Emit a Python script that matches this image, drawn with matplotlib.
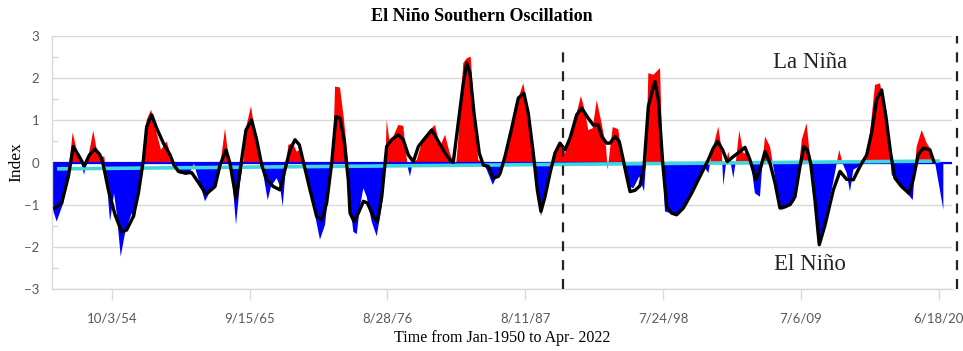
import numpy as np
import matplotlib

matplotlib.use("Agg")
import matplotlib.pyplot as plt
import matplotlib.dates as mdates
from matplotlib.ticker import FixedLocator, MultipleLocator

# index series (decimal year, value)
index_years = [
    1950.00, 1950.37, 1950.90, 1951.30, 1951.64, 1951.96, 1952.36, 1952.54, 1952.89, 1953.28,
    1953.60, 1953.87, 1954.16, 1954.34, 1954.61, 1954.93, 1955.14, 1955.46, 1955.80, 1956.33,
    1956.59, 1956.86, 1957.20, 1957.52, 1957.87, 1958.26, 1958.66, 1959.11, 1959.43, 1959.77,
    1960.04, 1960.70, 1960.96, 1961.28, 1961.49, 1962.16, 1962.55, 1963.08, 1963.35, 1963.75,
    1964.01, 1964.28, 1964.62, 1964.94, 1965.20, 1965.47, 1965.81, 1966.13, 1966.53, 1966.79,
    1967.14, 1967.40, 1967.85, 1968.12, 1968.33, 1968.59, 1968.78, 1969.12, 1969.44, 1969.70,
    1969.97, 1970.23, 1970.76, 1971.29, 1971.69, 1972.09, 1972.35, 1972.49, 1972.88, 1973.20,
    1973.54, 1973.68, 1973.94, 1974.21, 1974.47, 1974.74, 1975.00, 1975.40, 1975.80, 1976.20,
    1976.46, 1976.59, 1976.80, 1977.12, 1977.51, 1977.91, 1978.13, 1978.31, 1978.44, 1978.66,
    1978.98, 1979.37, 1979.90, 1980.43, 1980.83, 1981.23, 1981.57, 1981.88, 1982.10, 1982.28,
    1982.68, 1982.95, 1983.27, 1983.61, 1983.87, 1984.22, 1984.54, 1985.02, 1985.46, 1985.61,
    1985.99, 1986.39, 1986.79, 1987.18, 1987.45, 1987.76, 1988.11, 1988.32, 1988.64, 1988.85,
    1989.17, 1989.57, 1989.83, 1990.10, 1990.42, 1990.76, 1991.16, 1991.55, 1992.03, 1992.35,
    1992.61, 1992.96, 1993.28, 1993.67, 1994.02, 1994.15, 1994.33, 1994.55, 1994.99, 1995.26,
    1995.53, 1995.87, 1996.19, 1996.66, 1997.04, 1997.20, 1997.38, 1997.78, 1998.31, 1998.52,
    1998.70, 1999.10, 1999.63, 2000.16, 2000.69, 2001.35, 2001.88, 2002.15, 2002.42, 2002.94,
    2003.21, 2003.34, 2003.55, 2003.73, 2003.93, 2004.13, 2004.35, 2004.61, 2004.93, 2005.32,
    2005.59, 2005.85, 2006.25, 2006.39, 2006.65, 2007.05, 2007.26, 2007.58, 2007.97, 2008.37,
    2008.77, 2009.03, 2009.30, 2009.57, 2009.96, 2010.17, 2010.36, 2010.62, 2010.96, 2011.42,
    2011.95, 2012.35, 2012.55, 2012.82, 2013.14, 2013.40, 2013.67, 2014.14, 2014.60, 2014.99,
    2015.39, 2015.79, 2016.19, 2016.58, 2016.72, 2017.11, 2017.64, 2018.17, 2018.39, 2018.57,
    2018.70, 2019.10, 2019.50, 2019.84, 2020.16, 2020.50, 2020.82,
]
index_values = [
    -1.05, -1.40, -0.96, -0.25, 0.71, 0.30, -0.05, -0.29, 0.14, 0.76,
    0.22, 0.14, 0.14, -0.41, -1.40, -0.73, -1.20, -2.23, -1.68, -1.20,
    -1.32, -0.57, 0.00, 1.01, 1.25, 0.77, 0.30, 0.50, 0.18, 0.00,
    -0.25, -0.29, -0.24, -0.03, -0.25, -0.92, -0.69, -0.49, -0.09, 0.81,
    0.14, -0.25, -1.48, -0.49, 0.02, 0.89, 1.34, 0.70, 0.00, -0.29,
    -0.89, -0.57, -0.37, -0.57, -1.04, -0.09, 0.42, 0.46, 0.26, 0.30,
    -0.03, -0.25, -1.04, -1.83, -1.48, -0.41, 0.38, 1.80, 1.78, 1.01,
    0.00, -0.96, -1.64, -1.70, -1.04, -0.61, -0.81, -1.40, -1.75, -1.04,
    -0.25, 1.01, 0.54, 0.62, 0.89, 0.87, 0.22, -0.17, -0.33, 0.00,
    0.06, 0.46, 0.74, 0.89, 0.38, 0.66, 0.26, 0.00, -0.09, 0.54,
    2.36, 2.47, 2.51, 0.93, 0.06, 0.00, -0.17, -0.53, -0.25, -0.17,
    0.18, 0.62, 1.25, 1.64, 1.88, 1.33, 0.30, 0.00, -0.65, -1.28,
    -0.81, -0.33, 0.00, 0.26, 0.46, 0.22, 0.54, 1.01, 1.58, 1.21,
    0.77, 0.81, 1.48, 0.93, 0.38, -0.17, 0.30, 0.84, 0.79, 0.22,
    -0.09, -0.57, -0.61, -0.33, -0.69, 0.02, 2.12, 2.08, 2.24, 0.00,
    -1.16, -1.20, -1.24, -1.12, -0.81, -0.41, -0.13, -0.25, 0.22, 0.85,
    0.30, -0.55, -0.02, 0.26, -0.02, -0.37, 0.06, 0.76, 0.22, 0.22,
    -0.13, -0.73, -0.81, -0.25, 0.62, 0.38, 0.00, -0.57, -1.12, -1.08,
    -1.00, -0.89, -0.25, 0.54, 0.93, 0.30, 0.00, -0.65, -1.99, -1.36,
    -0.65, -0.02, 0.30, -0.02, -0.25, -0.69, -0.17, -0.09, 0.06, 0.70,
    1.84, 1.88, 1.17, 0.22, -0.29, -0.45, -0.65, -0.81, -0.89, -0.09,
    0.38, 0.77, 0.46, 0.30, 0.00, -0.57, -1.12,
]

# smoothed index (moving average)
smooth_years = [
    1950.24, 1950.77, 1951.30, 1951.69, 1952.09, 1952.57, 1952.97, 1953.42, 1953.81, 1954.08,
    1954.48, 1955.01, 1955.54, 1955.93, 1956.46, 1956.86, 1957.26, 1957.52, 1957.92, 1958.32,
    1958.85, 1959.38, 1959.69, 1960.04, 1960.57, 1961.10, 1961.49, 1962.24, 1962.95, 1963.35,
    1963.83, 1964.14, 1964.62, 1964.99, 1965.41, 1965.86, 1966.26, 1966.66, 1967.06, 1967.59,
    1968.12, 1968.51, 1968.91, 1969.31, 1969.65, 1969.97, 1970.50, 1971.03, 1971.43, 1971.82,
    1972.22, 1972.56, 1972.88, 1973.20, 1973.54, 1973.68, 1974.00, 1974.34, 1974.74, 1975.06,
    1975.53, 1975.85, 1976.20, 1976.59, 1976.99, 1977.51, 1977.91, 1978.31, 1978.71, 1979.11,
    1979.64, 1980.17, 1980.70, 1981.23, 1981.62, 1981.88, 1982.28, 1982.68, 1982.95, 1983.21,
    1983.53, 1983.95, 1984.27, 1984.66, 1985.06, 1985.46, 1985.61, 1985.99, 1986.52, 1987.05,
    1987.50, 1987.84, 1988.24, 1988.56, 1988.85, 1989.17, 1989.57, 1989.96, 1990.36, 1990.76,
    1991.16, 1991.69, 1992.08, 1992.61, 1993.01, 1993.40, 1993.67, 1994.07, 1994.33, 1994.73,
    1995.07, 1995.39, 1995.66, 1995.93, 1996.32, 1996.72, 1997.04, 1997.38, 1997.78, 1997.91,
    1998.18, 1998.52, 1998.84, 1999.23, 1999.63, 2000.16, 2000.82, 2001.48, 2002.14, 2002.54,
    2002.89, 2003.28, 2003.65, 2004.13, 2004.66, 2005.06, 2005.46, 2005.93, 2006.33, 2006.65,
    2007.05, 2007.45, 2007.84, 2008.24, 2008.64, 2009.03, 2009.43, 2009.75, 2010.01, 2010.28,
    2010.62, 2010.96, 2011.42, 2012.08, 2012.61, 2013.14, 2013.67, 2014.20, 2014.73, 2015.12,
    2015.52, 2015.92, 2016.26, 2016.63, 2016.98, 2017.50, 2018.11, 2018.42, 2018.82, 2019.22,
    2019.75, 2020.07,
]
smooth_values = [
    -1.08, -0.96, -0.33, 0.38, 0.18, -0.08, 0.18, 0.32, 0.18, -0.06,
    -0.65, -1.24, -1.64, -1.60, -1.28, -0.73, 0.06, 0.85, 1.13, 0.81,
    0.46, 0.18, -0.06, -0.21, -0.25, -0.24, -0.41, -0.75, -0.57, -0.06,
    0.30, -0.02, -0.85, -0.09, 0.77, 1.01, 0.54, -0.06, -0.41, -0.57,
    -0.65, -0.17, 0.30, 0.54, 0.42, 0.02, -0.65, -1.28, -1.36, -0.96,
    -0.02, 1.09, 1.05, 0.54, -0.41, -1.20, -1.40, -1.20, -0.92, -0.96,
    -1.28, -1.40, -0.81, 0.38, 0.54, 0.66, 0.54, 0.18, 0.02, 0.38,
    0.58, 0.77, 0.50, 0.22, 0.06, 0.00, 0.93, 1.88, 2.36, 2.12,
    1.17, 0.22, -0.06, -0.09, -0.37, -0.33, -0.25, 0.14, 0.81, 1.53,
    1.64, 1.17, 0.22, -0.65, -1.16, -0.81, -0.25, 0.22, 0.46, 0.30,
    0.58, 1.13, 1.29, 1.05, 0.89, 0.89, 0.62, 0.46, 0.46, 0.62,
    0.50, 0.06, -0.33, -0.69, -0.66, -0.55, -0.09, 1.33, 1.80, 1.92,
    1.48, 0.00, -1.04, -1.20, -1.24, -1.08, -0.73, -0.33, 0.06, 0.34,
    0.50, 0.30, 0.02, 0.14, 0.26, 0.36, 0.06, -0.41, -0.09, 0.26,
    -0.02, -0.49, -1.08, -1.04, -1.00, -0.81, -0.09, 0.38, 0.30, -0.02,
    -0.89, -1.95, -1.48, -0.65, -0.21, -0.40, -0.41, -0.09, 0.18, 0.70,
    1.49, 1.72, 1.09, 0.22, -0.37, -0.57, -0.73, -0.41, 0.18, 0.34,
    0.30, 0.02,
]

# linear trend end points
trend_years = [1950.40, 2020.55]
trend_values = [-0.15, 0.035]

# period markers
divider_years = [1990.56, 2021.90]
divider_tops = [2.7, 3.0]

tick_dates = ["1954-10-03", "1965-09-15", "1976-08-28", "1987-08-11",
              "1998-07-24", "2009-07-06", "2020-06-18"]
x_range = [1950.0, 2021.51]


def to_dates(years):
    days = np.round((np.asarray(years, dtype=float) - 1950.0) * 365.25).astype(int)
    return np.datetime64("1950-01-01") + days.astype("timedelta64[D]")


serif = "Liberation Serif"
tick_font = "Lato"
grid_col = "#d9d9d9"

fig = plt.figure(figsize=(9.63, 3.51), dpi=100)
ax = fig.add_axes([0.054, 0.1766, 0.9346, 0.7208])

x = to_dates(index_years)
y = np.asarray(index_values)
ax.fill_between(x, y, 0, where=y >= 0, interpolate=True, color="#ff0000", lw=0, zorder=2)
ax.fill_between(x, y, 0, where=y <= 0, interpolate=True, color="#0000ff", lw=0, zorder=2)
ax.axhline(0, color="#0000ff", lw=1.6, zorder=2.5)

ax.plot(to_dates(trend_years), trend_values, color="#3fd6da", lw=2.6, zorder=3,
        solid_capstyle="butt")
ax.plot(to_dates(smooth_years), smooth_values, color="black", lw=2.4, zorder=4,
        solid_joinstyle="round")

for yr, top in zip(divider_years, divider_tops):
    ax.plot(to_dates([yr, yr]), [-3.0, top], color="#222222", lw=1.6,
            ls=(0, (4.5, 4)), zorder=5, clip_on=False)

ax.text(to_dates([2010.22])[0], 2.36, "La Niña", family=serif, fontsize=16.5,
        ha="center", va="center", color="#222222")
ax.text(to_dates([2010.22])[0], -2.43, "El Niño", family=serif, fontsize=16.5,
        ha="center", va="center", color="#222222")

ax.set_xlim(to_dates(x_range))
ax.set_ylim(-3, 3)
ax.yaxis.set_major_locator(MultipleLocator(1))
ax.yaxis.set_minor_locator(MultipleLocator(0.5))
ax.grid(axis="y", which="major", color=grid_col, lw=1.0, zorder=0)
ax.set_axisbelow(True)

ticks = [mdates.date2num(np.datetime64(d)) for d in tick_dates]
ax.xaxis.set_major_locator(FixedLocator(ticks))
ax.set_xticklabels([f"{int(d[5:7])}/{int(d[8:10])}/{d[2:4]}" for d in tick_dates])

for side in ("top", "right"):
    ax.spines[side].set_visible(False)
for side in ("left", "bottom"):
    ax.spines[side].set_color(grid_col)
    ax.spines[side].set_linewidth(1.0)

ax.tick_params(axis="x", which="major", length=8, width=1.0, color=grid_col, pad=9,
               labelsize=9.5, labelcolor="#595959")
ax.tick_params(axis="y", which="major", length=0, pad=9, labelsize=9.5, labelcolor="#595959")
ax.tick_params(axis="y", which="minor", length=4, width=1.0, color=grid_col, direction="in")
for lab in ax.get_xticklabels() + ax.get_yticklabels():
    lab.set_family(tick_font)

ax.set_ylabel("Index", family=serif, fontsize=12.5)
ax.yaxis.set_label_coords(-0.031, 0.5)
ax.set_xlabel("Time from Jan-1950 to Apr- 2022", family=serif, fontsize=11.5, labelpad=4)
fig.text(0.5, 0.952, "El Niño Southern Oscillation", family=serif, fontsize=13,
         weight="bold", ha="center", va="center")

fig.savefig("out.png", dpi=100)
